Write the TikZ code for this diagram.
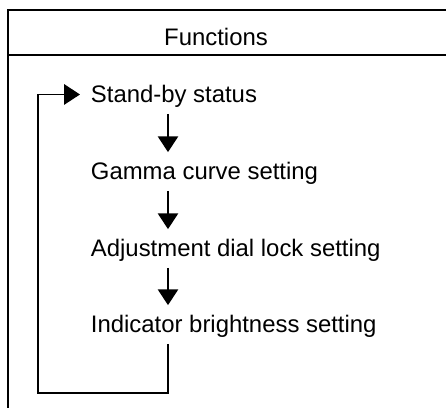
\documentclass[tikz,border=0pt]{standalone}
\usepackage{fontspec}
\setmainfont{Liberation Sans}
\usetikzlibrary{positioning,arrows.meta,calc}

\begin{document}
\begin{tikzpicture}[x=0.02cm,y=-0.02cm,line width=1.1pt,
  fn/.style={anchor=base west, inner xsep=0pt, inner ysep=5.6pt,
    text height=9.7pt, text depth=0pt, font=\fontsize{13.6}{16}\selectfont},
  flow/.style={-{Triangle[length=9pt,width=11.5pt]}}]
% Page in pixel units; frame runs off the right and bottom edges.
\useasboundingbox (0,0) rectangle (446,408);
\draw[line width=1.2pt] (446,10) -| (8,408);
\draw[line width=1.2pt] (8,55) -- (446,55);
\node[fn, anchor=base] (title) at (216,46) {Functions};
% Function cycle
\node[fn] (stby)  at (90,103) {Stand-by status};
\node[fn] (gamma) at (90,180) {Gamma curve setting};
\node[fn] (dial)  at (90,257) {Adjustment dial lock setting};
\node[fn] (indic) at (90,333) {Indicator brightness setting};
\coordinate (ax) at (168,0);
\coordinate (lpl) at (38,393);
\draw[flow] (stby.south -| ax) -- (gamma.north -| ax);
\draw[flow] (gamma.south -| ax) -- (dial.north -| ax);
\draw[flow] (dial.south -| ax) -- (indic.north -| ax);
\draw[flow, shorten >=0.2cm] (indic.south -| ax) |- (lpl) |- (stby.west);
\end{tikzpicture}
\end{document}
